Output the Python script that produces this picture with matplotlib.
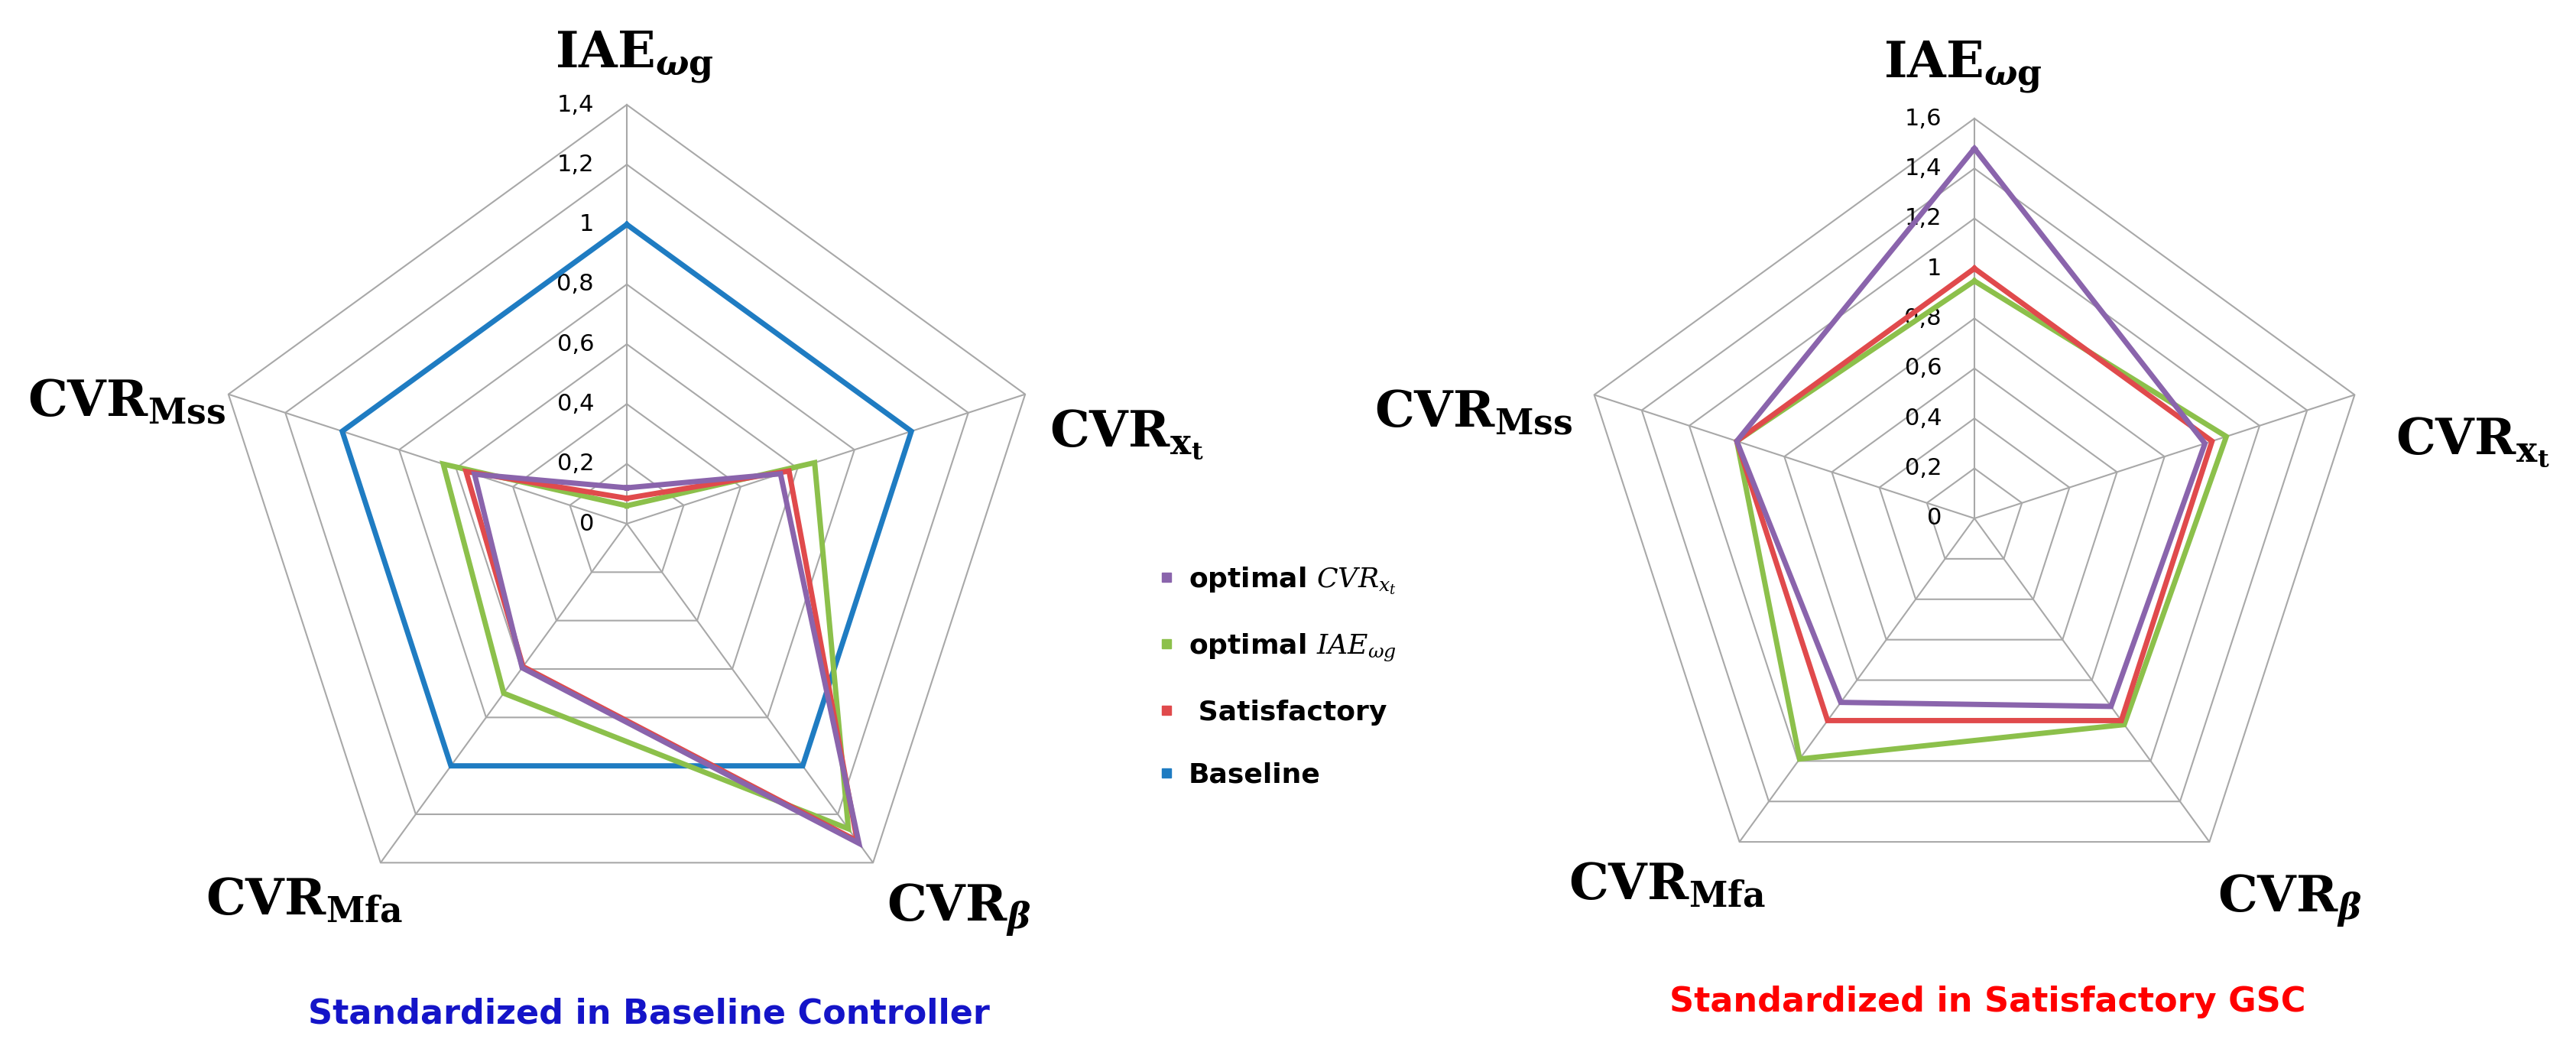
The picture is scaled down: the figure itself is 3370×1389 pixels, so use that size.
import numpy as np
import matplotlib
matplotlib.use('Agg')
import matplotlib.pyplot as plt
from matplotlib.lines import Line2D

plt.rcParams['font.family'] = ['DejaVu Sans']
plt.rcParams['mathtext.fontset'] = 'dejavuserif'

W, H = 3370, 1389

# axes, clockwise from the top
axis_names = ['IAE_wg', 'CVR_xt', 'CVR_beta', 'CVR_Mfa', 'CVR_Mss']
axis_labels = [r'$\mathbf{IAE}_{\boldsymbol{\omega}\mathbf{g}}$',
               r'$\mathbf{CVR}_{\mathbf{x}_{\mathbf{t}}}$',
               r'$\mathbf{CVR}_{\boldsymbol{\beta}}$',
               r'$\mathbf{CVR}_{\mathbf{Mfa}}$',
               r'$\mathbf{CVR}_{\mathbf{Mss}}$']

# left chart: standardized in baseline controller
left_baseline = [1.0, 1.0, 1.0, 1.0, 1.0]
left_satisf = [0.085, 0.57, 1.31, 0.59, 0.565]
left_opt_iae = [0.06, 0.66, 1.26, 0.70, 0.645]
left_opt_cvr = [0.12, 0.54, 1.32, 0.595, 0.535]
left_max = 1.4

# right chart: standardized in satisfactory GSC
right_satisf = [1.0, 1.0, 1.0, 1.0, 1.0]
right_opt_iae = [0.95, 1.06, 1.02, 1.19, 1.0]
right_opt_cvr = [1.48, 0.97, 0.93, 0.91, 1.0]
right_max = 1.6

c_blue = '#1f7cc2'
c_red = '#e04a4c'
c_green = '#8cc04b'
c_purple = '#8a64ac'
c_grid = '#a8a8a8'

legend_labels = [r'optimal $CVR_{x_t}$', r'optimal $IAE_{\omega g}$', ' Satisfactory', 'Baseline']
legend_colors = [c_purple, c_green, c_red, c_blue]


def px(x, y):
    return x / W, 1 - y / H


def radar(ax, series, rmax):
    theta = np.linspace(0, 2 * np.pi, len(axis_names), endpoint=False)
    closed = np.append(theta, theta[0])
    ticks = np.round(np.arange(0, rmax + 0.01, 0.2), 1)
    ax.set_theta_offset(np.pi / 2)
    ax.set_theta_direction(-1)
    ax.set_ylim(0, rmax)
    ax.set_yticks([])
    ax.set_xticks(theta)
    ax.set_xticklabels([])
    ax.xaxis.grid(True, color=c_grid, lw=1.5)
    ax.spines['polar'].set_visible(False)
    for t in ticks[1:]:
        ax.plot(closed, [t] * len(closed), color=c_grid, lw=1.5, zorder=1, clip_on=False)
    for t in ticks:
        ax.annotate(f'{t:g}'.replace('.', ','), xy=(0, t), xytext=(-43, 0),
                    textcoords='offset pixels', ha='right', va='center', fontsize=22)
    for vals, color in series:
        ax.plot(closed, list(vals) + [vals[0]], color=color, lw=5,
                solid_joinstyle='miter', zorder=3, clip_on=False)


fig = plt.figure(figsize=(W / 100, H / 100), dpi=100)

# left radar: centre (820, 685), radius 548 px
axl = fig.add_axes([272 / W, (H - 685 - 548) / H, 1096 / W, 1096 / H], projection='polar')
radar(axl, [(left_baseline, c_blue), (left_opt_iae, c_green),
            (left_satisf, c_red), (left_opt_cvr, c_purple)], left_max)

# right radar: centre (2583, 678), radius 523 px
axr = fig.add_axes([2060 / W, (H - 678 - 523) / H, 1046 / W, 1046 / H], projection='polar')
radar(axr, [(right_opt_iae, c_green), (right_satisf, c_red),
            (right_opt_cvr, c_purple)], right_max)

lab_kw = dict(fontsize=47, va='center')
# left labels
fig.text(*px(830, 75), axis_labels[0], ha='center', **lab_kw)
fig.text(*px(1373, 568), axis_labels[1], ha='left', **lab_kw)
fig.text(*px(1160, 1190), axis_labels[2], ha='left', **lab_kw)
fig.text(*px(269, 1178), axis_labels[3], ha='left', **lab_kw)
fig.text(*px(36, 526), axis_labels[4], ha='left', **lab_kw)
# right labels
fig.text(*px(2568, 88), axis_labels[0], ha='center', **lab_kw)
fig.text(*px(3134, 578), axis_labels[1], ha='left', **lab_kw)
fig.text(*px(2901, 1178), axis_labels[2], ha='left', **lab_kw)
fig.text(*px(2052, 1158), axis_labels[3], ha='left', **lab_kw)
fig.text(*px(2058, 540), axis_labels[4], ha='right', **lab_kw)

fig.text(*px(849, 1326), 'Standardized in Baseline Controller', color='#1414c8',
         fontsize=32, fontweight='bold', ha='center', va='center')
fig.text(*px(2600, 1310), 'Standardized in Satisfactory GSC', color='#ff0000',
         fontsize=32, fontweight='bold', ha='center', va='center')

handles = [Line2D([], [], marker='s', linestyle='none', color=c, markersize=9)
           for c in legend_colors]
fig.legend(handles, legend_labels, loc='center left', bbox_to_anchor=px(1515, 885),
           frameon=False, prop={'weight': 'bold', 'size': 26}, labelspacing=1.32,
           handlelength=0.6, handletextpad=0.5, borderpad=0, borderaxespad=0)

fig.savefig('out.png', dpi=100, facecolor='white')
